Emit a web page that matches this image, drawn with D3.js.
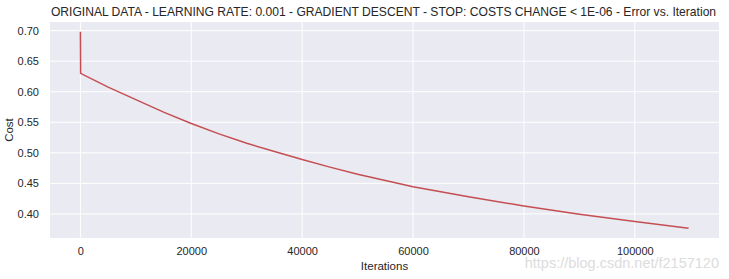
<!DOCTYPE html>
<html>
<head>
<meta charset="utf-8">
<script src="https://cdn.jsdelivr.net/npm/d3@7"></script>
<style>
  body { margin: 0; background: #fff; }
  text { font-family: "Liberation Sans", Arial, sans-serif; fill: #262626; }
</style>
</head>
<body>
<svg id="chart" width="729" height="279"></svg>
<script>
// cost per iteration
var iterations = [0, 40, 5000, 10000, 15000, 20000, 25000, 30000, 35000,
                  40000, 45000, 50000, 55000, 60000, 70000, 80000, 90000, 100000, 109700];
var costs = [0.698, 0.6300, 0.6075, 0.5870, 0.5665, 0.5480, 0.5310, 0.5155, 0.5020,
             0.4890, 0.4765, 0.4650, 0.4545, 0.4445, 0.4280, 0.4130, 0.3995, 0.3875, 0.3766];
var xTicks = [0, 20000, 40000, 60000, 80000, 100000];
var yTicks = [0.40, 0.45, 0.50, 0.55, 0.60, 0.65, 0.70];

var title = 'ORIGINAL DATA - LEARNING RATE: 0.001 - GRADIENT DESCENT - STOP: COSTS CHANGE < 1E-06 - Error vs. Iteration';

var svg = d3.select('#chart');
var pLeft = 50, pRight = 719, pTop = 22, pBottom = 238;

// matplotlib style 5% margins
var xMin = d3.min(iterations), xMax = d3.max(iterations);
var yMin = d3.min(costs), yMax = d3.max(costs);
var xPad = (xMax - xMin) * 0.05, yPad = (yMax - yMin) * 0.05;

var x = d3.scaleLinear().domain([xMin - xPad, xMax + xPad]).range([pLeft, pRight]);
var y = d3.scaleLinear().domain([yMin - yPad, yMax + yPad]).range([pBottom, pTop]);

svg.append('rect')
  .attr('x', pLeft).attr('y', pTop)
  .attr('width', pRight - pLeft).attr('height', pBottom - pTop)
  .attr('fill', '#EAEAF2');

// grid
svg.append('g').selectAll('line').data(xTicks).join('line')
  .attr('x1', d => x(d)).attr('x2', d => x(d))
  .attr('y1', pTop).attr('y2', pBottom)
  .attr('stroke', '#fff').attr('stroke-width', 1);
svg.append('g').selectAll('line').data(yTicks).join('line')
  .attr('x1', pLeft).attr('x2', pRight)
  .attr('y1', d => y(d)).attr('y2', d => y(d))
  .attr('stroke', '#fff').attr('stroke-width', 1);

// axes, only the labels show
var xAxis = svg.append('g')
  .attr('transform', 'translate(0,' + pBottom + ')')
  .call(d3.axisBottom(x).tickValues(xTicks).tickFormat(d3.format('d')).tickSize(0).tickPadding(9));
var yAxis = svg.append('g')
  .attr('transform', 'translate(' + pLeft + ',0)')
  .call(d3.axisLeft(y).tickValues(yTicks).tickFormat(d3.format('.2f')).tickSize(0).tickPadding(11));
[xAxis, yAxis].forEach(function(ax) {
  ax.select('.domain').remove();
  ax.selectAll('text')
    .style('font-family', '"Liberation Sans", Arial, sans-serif')
    .style('font-size', '11px')
    .style('fill', '#262626');
});

var line = d3.line()
  .x((d, i) => x(iterations[i]))
  .y(d => y(d));

svg.append('path')
  .datum(costs)
  .attr('d', line)
  .attr('fill', 'none')
  .attr('stroke', '#C44E52')
  .attr('stroke-width', 1.5);

svg.append('text')
  .attr('x', (pLeft + pRight) / 2 - 1).attr('y', 16)
  .attr('text-anchor', 'middle')
  .style('font-size', '12.1px')
  .text(title);

svg.append('text')
  .attr('x', (pLeft + pRight) / 2).attr('y', 270)
  .attr('text-anchor', 'middle')
  .style('font-size', '11.5px')
  .text('Iterations');

svg.append('text')
  .attr('transform', 'translate(13,' + (pTop + pBottom) / 2 + ') rotate(-90)')
  .attr('text-anchor', 'middle')
  .style('font-size', '11.5px')
  .text('Cost');

// watermark
svg.append('text')
  .attr('x', 719).attr('y', 268)
  .attr('text-anchor', 'end')
  .style('font-size', '14.5px')
  .style('fill', '#dcdcdc')
  .text('https://blog.csdn.net/f2157120');
</script>
</body>
</html>
